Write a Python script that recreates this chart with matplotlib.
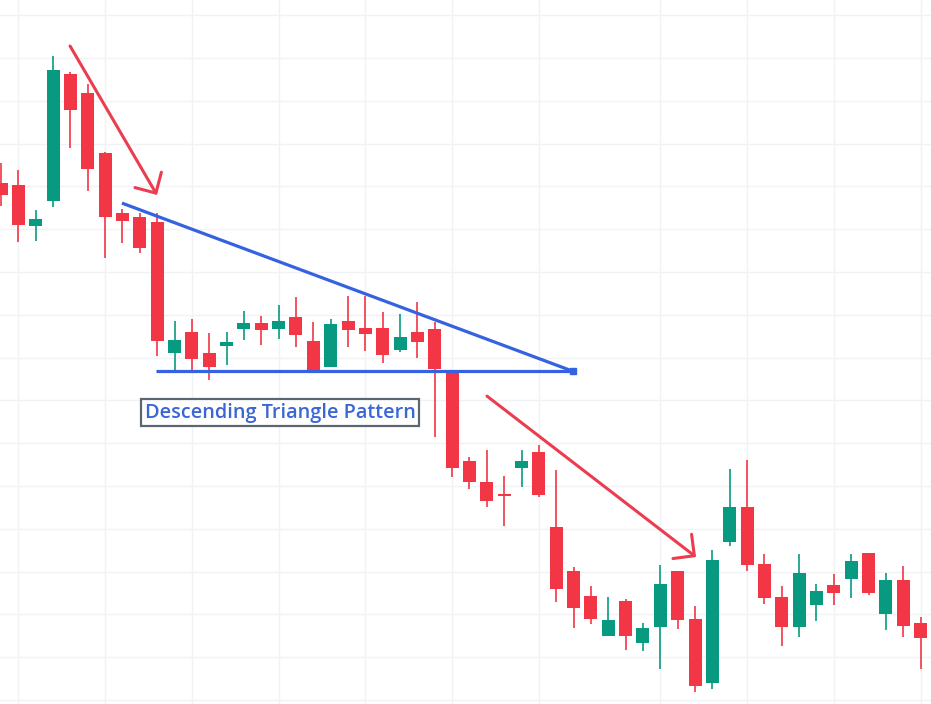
import numpy as np
import matplotlib
matplotlib.use("Agg")
import matplotlib.pyplot as plt
from matplotlib.patches import FancyArrowPatch

# OHLC (arbitrary price units, one grid step = 1.0)
opens = [112.08, 112.03, 111.07, 111.66, 114.63, 114.18, 112.78, 111.38, 111.28, 111.17,
         108.11, 108.60, 108.11, 108.27, 108.67, 108.81, 108.67, 108.95, 108.39, 107.78,
         108.86, 108.69, 108.69, 108.18, 108.60, 108.67, 107.66, 105.58, 105.09, 104.81,
         105.42, 105.79, 104.04, 103.01, 102.43, 101.50, 102.31, 101.33, 101.71, 103.01,
         101.89, 100.40, 103.69, 104.51, 103.18, 102.41, 101.71, 102.22, 102.69, 102.83,
         103.43, 102.01, 102.80, 101.80]
highs = [112.55, 112.38, 111.45, 115.05, 114.67, 114.39, 112.80, 111.47, 111.38, 111.38,
         108.86, 108.90, 108.57, 108.60, 109.09, 108.97, 109.23, 109.42, 108.83, 108.90,
         109.44, 109.44, 109.07, 109.02, 109.30, 108.83, 107.66, 105.68, 105.84, 105.23,
         105.84, 105.96, 105.37, 103.11, 102.66, 102.41, 102.36, 101.80, 103.15, 103.01,
         102.20, 103.50, 105.40, 105.61, 103.41, 102.66, 103.41, 102.71, 102.94, 103.41,
         103.43, 102.97, 103.13, 101.94]
lows = [111.54, 110.70, 110.72, 111.52, 112.90, 111.89, 110.33, 110.68, 110.44, 108.04,
        107.71, 107.64, 107.48, 107.83, 108.41, 108.29, 108.43, 108.25, 107.64, 107.78,
        108.25, 108.15, 107.87, 108.13, 107.99, 106.14, 105.21, 104.93, 104.51, 104.07,
        104.98, 104.74, 102.29, 101.68, 101.78, 101.50, 101.17, 101.14, 100.72, 101.66,
        100.19, 100.26, 103.60, 103.01, 102.24, 101.26, 101.47, 101.85, 102.22, 102.38,
        102.45, 101.64, 101.47, 100.72]
closes = [111.80, 111.10, 111.24, 114.72, 113.78, 112.41, 111.28, 111.19, 110.56, 108.39,
          108.41, 107.97, 107.78, 108.36, 108.81, 108.64, 108.86, 108.53, 107.69, 108.78,
          108.64, 108.55, 108.06, 108.48, 108.36, 107.73, 105.42, 105.09, 104.65, 104.77,
          105.58, 104.79, 102.59, 102.15, 101.89, 101.87, 101.50, 101.68, 102.71, 101.87,
          100.33, 103.27, 104.51, 103.15, 102.38, 101.71, 102.97, 102.55, 102.50, 103.25,
          102.50, 102.80, 101.73, 101.45]

# drawn annotations (bar index, price)
top_line_x = [6.97, 32.97]
top_line_y = [111.61, 107.68]
base_line_x = [8.93, 32.97]
base_line_y = [107.68, 107.68]
arrow1_start = (3.98, 115.28)
arrow1_end = (8.99, 111.80)
arrow2_start = (28.01, 107.10)
arrow2_end = (40.06, 103.34)
label_text = "Descending Triangle Pattern"
label_pos = (16.08, 106.71)
vgrid_idx = [1, 6, 11, 16, 21, 26, 31, 38, 43, 48, 53]
hgrid_levels = list(range(100, 117))

UP = "#089981"
DOWN = "#F23645"
BLUE = "#3462E0"
RED = "#EB3D4F"

o = np.array(opens)
h = np.array(highs)
l = np.array(lows)
c = np.array(closes)
x = np.arange(len(o))
colors = [UP if cc > oo else DOWN for oo, cc in zip(o, c)]

fig = plt.figure(figsize=(9.31, 7.04), dpi=100)
ax = fig.add_axes([0, 0, 1, 1])

for gx in vgrid_idx:
    ax.axvline(gx, color="#f1f2f5", lw=1, zorder=0)
for gy in hgrid_levels:
    ax.axhline(gy, color="#f1f2f5", lw=1, zorder=0)

ax.vlines(x, l, h, colors=colors, lw=1.2, zorder=2)
body_h = np.maximum(np.abs(c - o), 0.04)
ax.bar(x, body_h, bottom=np.minimum(o, c), width=0.75, color=colors, zorder=3)

ax.plot(top_line_x, top_line_y, color=BLUE, lw=2.3, solid_capstyle="butt", zorder=5)
ax.plot(base_line_x, base_line_y, color=BLUE, lw=2.3, solid_capstyle="butt", zorder=5)
ax.plot([top_line_x[1]], [top_line_y[1]], "s", color=BLUE, ms=4, zorder=5)

for s, e in [(arrow1_start, arrow1_end), (arrow2_start, arrow2_end)]:
    arr = FancyArrowPatch(s, e, arrowstyle="->,head_length=0.55,head_width=0.55",
                          mutation_scale=20, color=RED, lw=2.2,
                          shrinkA=0, shrinkB=0, zorder=6)
    ax.add_patch(arr)

ax.text(label_pos[0], label_pos[1], label_text, ha="center", va="center",
        fontsize=14.3, fontweight="semibold", family=["Open Sans", "DejaVu Sans"],
        color="#3A66D6", zorder=7,
        bbox=dict(boxstyle="square,pad=0.18", fc="white", ec="#5d6670", lw=1.6))

ax.set_xlim(-0.058, 53.60)
ax.set_ylim(99.907, 116.355)
ax.axis("off")

fig.savefig("out.png", dpi=100, facecolor="white")
